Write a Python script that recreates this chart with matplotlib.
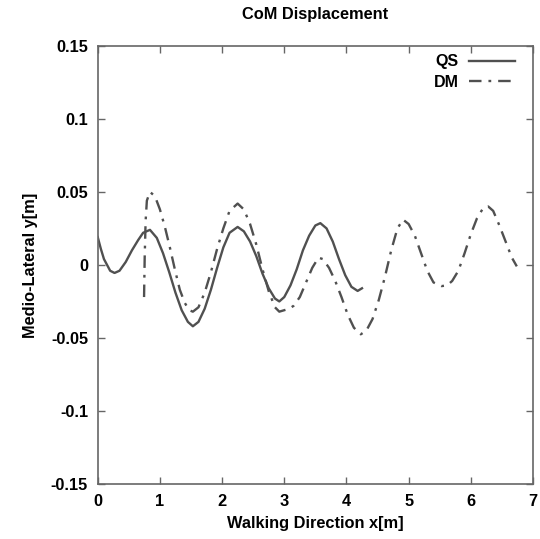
import numpy as np
import matplotlib
matplotlib.use("Agg")
import matplotlib.pyplot as plt

# QS (solid) curve
qs_x = [0.00, 0.05, 0.10, 0.20, 0.27, 0.35, 0.45, 0.55, 0.65, 0.73, 0.84,
        0.95, 1.05, 1.15, 1.25, 1.35, 1.45, 1.53, 1.62, 1.72, 1.82, 1.92,
        2.02, 2.12, 2.25, 2.35, 2.45, 2.55, 2.65, 2.75, 2.85, 2.92, 3.00,
        3.10, 3.20, 3.30, 3.40, 3.50, 3.58, 3.68, 3.78, 3.88, 3.98, 4.08,
        4.18, 4.25]
qs_y = [0.019, 0.011, 0.004, -0.004, -0.0055, -0.004, 0.002, 0.010, 0.017,
        0.022, 0.024, 0.0185, 0.008, -0.005, -0.019, -0.031, -0.039, -0.042,
        -0.039, -0.030, -0.017, -0.002, 0.012, 0.022, 0.026, 0.023, 0.016,
        0.006, -0.006, -0.016, -0.023, -0.025, -0.022, -0.014, -0.003, 0.010,
        0.020, 0.027, 0.0286, 0.025, 0.016, 0.004, -0.007, -0.015, -0.0178,
        -0.016]

# DM (dash-dot) curve
dm_x = [0.745, 0.755, 0.77, 0.79, 0.84, 0.92, 1.00, 1.08, 1.16, 1.24, 1.32,
        1.40, 1.47, 1.53, 1.62, 1.72, 1.82, 1.92, 2.02, 2.12, 2.25, 2.35,
        2.45, 2.55, 2.65, 2.75, 2.85, 2.92, 3.00, 3.08, 3.15, 3.25, 3.35,
        3.45, 3.55, 3.62, 3.72, 3.82, 3.92, 4.02, 4.12, 4.23, 4.32, 4.42,
        4.52, 4.62, 4.72, 4.82, 4.91, 5.00, 5.10, 5.20, 5.30, 5.40, 5.53,
        5.62, 5.70, 5.80, 5.90, 6.00, 6.10, 6.20, 6.28, 6.36, 6.46, 6.56,
        6.66, 6.74]
dm_y = [-0.022, 0.005, 0.030, 0.044, 0.050, 0.047, 0.038, 0.026, 0.012,
        -0.003, -0.017, -0.026, -0.031, -0.032, -0.029, -0.019, -0.005, 0.011,
        0.025, 0.037, 0.042, 0.038, 0.028, 0.014, -0.003, -0.018, -0.029,
        -0.032, -0.031, -0.030, -0.028, -0.022, -0.012, -0.002, 0.005, 0.004,
        -0.002, -0.011, -0.022, -0.034, -0.043, -0.0475, -0.045, -0.037,
        -0.024, -0.008, 0.010, 0.025, 0.031, 0.028, 0.020, 0.008, -0.004,
        -0.012, -0.0145, -0.014, -0.011, -0.004, 0.008, 0.021, 0.032, 0.039,
        0.040, 0.037, 0.027, 0.016, 0.005, -0.001]

x_ticks = [0, 1, 2, 3, 4, 5, 6, 7]
y_ticks = [-0.15, -0.1, -0.05, 0, 0.05, 0.1, 0.15]
y_tick_labels = ['-0.15', '-0.1', '-0.05', '0', '0.05', '0.1', '0.15']

LINE_COLOR = '#505050'
AXIS_COLOR = '#666666'

plt.rcParams['font.family'] = ['Liberation Sans', 'DejaVu Sans']
plt.rcParams['font.weight'] = 'bold'
plt.rcParams['lines.scale_dashes'] = False

fig = plt.figure(figsize=(5.40, 5.39), dpi=100)
ax = fig.add_axes([0.181, 0.102, 0.806, 0.813])

ax.plot(qs_x, qs_y, color=LINE_COLOR, lw=1.7, label='QS')
ax.plot(dm_x, dm_y, color=LINE_COLOR, lw=1.7, dashes=(9, 5, 2, 5), label='DM')

ax.set_xlim(0, 7)
ax.set_ylim(-0.15, 0.15)
ax.set_xticks(x_ticks)
ax.set_yticks(y_ticks)
ax.set_yticklabels(y_tick_labels)

ax.tick_params(direction='in', length=5, width=1, color=AXIS_COLOR,
               top=True, right=True, labelsize=11.8, pad=7)
for lbl in ax.get_xticklabels() + ax.get_yticklabels():
    lbl.set_fontweight('bold')
for sp in ax.spines.values():
    sp.set_color(AXIS_COLOR)
    sp.set_linewidth(1.2)

ax.set_title('CoM Displacement', fontsize=11.8, fontweight='bold', pad=19)
ax.set_xlabel('Walking Direction x[m]', fontsize=11.8, fontweight='bold', labelpad=5)
ax.set_ylabel('Medio-Lateral y[m]', fontsize=11.8, fontweight='bold', labelpad=9)

leg = ax.legend(loc='upper right', bbox_to_anchor=(0.973, 0.995), frameon=False,
                markerfirst=False, handlelength=2.9,
                prop={'weight': 'bold', 'size': 11.5},
                borderaxespad=0, labelspacing=0.35, handletextpad=0.6)

fig.savefig('out.png', dpi=100)
